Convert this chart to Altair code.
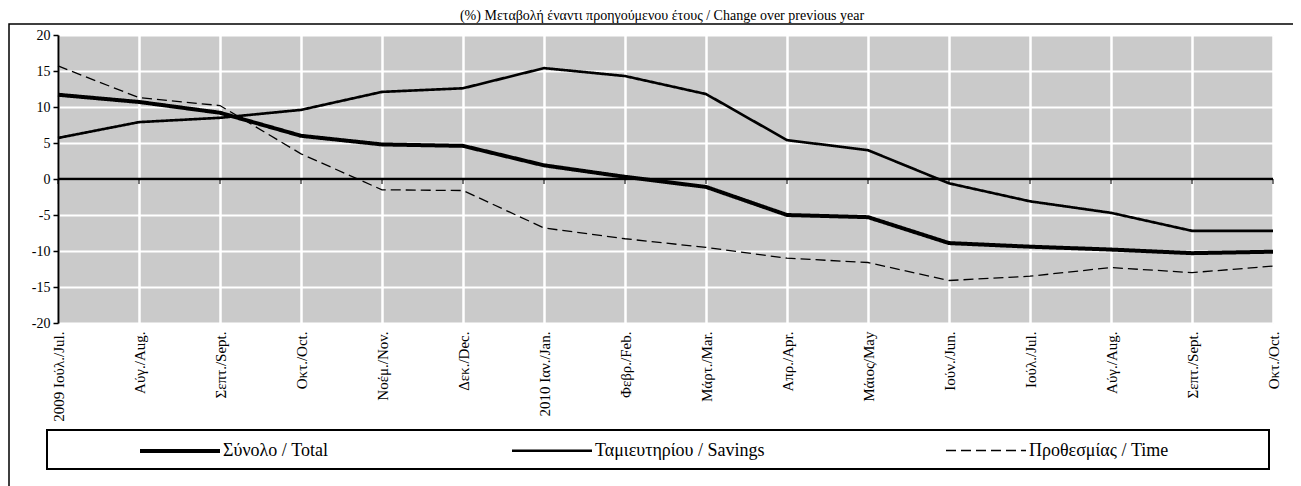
import altair as alt
import pandas as pd

months = ["2009 Ιούλ./Jul.", "Αύγ./Aug.", "Σεπτ./Sept.", "Οκτ./Oct.", "Νοέμ./Nov.",
          "Δεκ./Dec.", "2010 Ιαν./Jan.", "Φεβρ./Feb.", "Μάρτ./Mar.", "Απρ./Apr.",
          "Μάιος/May", "Ιούν./Jun.", "Ιούλ./Jul.", "Αύγ./Aug.", "Σεπτ./Sept.", "Οκτ./Oct."]
total = [11.7, 10.7, 9.2, 6.0, 4.8, 4.6, 1.9, 0.3, -1.1, -5.0, -5.3, -8.9, -9.4, -9.8, -10.3, -10.1]
savings = [5.7, 7.9, 8.5, 9.6, 12.1, 12.6, 15.4, 14.3, 11.8, 5.4, 4.0, -0.6, -3.1, -4.7, -7.2, -7.2]
time_dep = [15.7, 11.3, 10.2, 3.5, -1.5, -1.6, -6.8, -8.3, -9.5, -11.0, -11.6, -14.1, -13.5, -12.3, -13.0, -12.1]
series_names = ["Σύνολο / Total", "Ταμιευτηρίου / Savings", "Προθεσμίας / Time"]
y_ticks = [-20, -15, -10, -5, 0, 5, 10, 15, 20]
title_text = "(%) Μεταβολή έναντι προηγούμενου έτους / Change over previous year"

rows = []
for name, vals in zip(series_names, [total, savings, time_dep]):
    for i, v in enumerate(vals):
        rows.append({"series": name, "idx": i, "value": v})
df = pd.DataFrame(rows)
idx_values = list(range(len(months)))
idx_df = pd.DataFrame({"idx": idx_values})
one = pd.DataFrame({"k": [0]})

FONT = "Liberation Serif"
label_expr = "[" + ",".join("'" + m + "'" for m in months) + "][datum.value]"

x_scale = alt.Scale(domain=[0, len(months) - 1], nice=False, zero=False)
x_axis = alt.Axis(title=None, values=idx_values, labelAngle=270, labelAlign="right",
                  labelBaseline="middle", domain=False, ticks=False, grid=True,
                  gridColor="white", gridWidth=2.5, gridOpacity=1, labelPadding=8,
                  labelFont=FONT, labelFontSize=15, labelColor="black",
                  labelOverlap=False, labelExpr=label_expr)
y_scale = alt.Scale(domain=[-20, 20], nice=False)
y_axis = alt.Axis(title=None, values=y_ticks, tickCount=9, grid=True, gridColor="white",
                  gridWidth=2, gridOpacity=1, domainColor="black", domainWidth=2,
                  tickColor="black", tickSize=5, tickWidth=1.5, labelFont=FONT,
                  labelFontSize=14, labelColor="black", labelPadding=3, labelOverlap=False,
                  labelExpr="toString(datum.value)")

leg = alt.Legend(title=None, orient="none", legendX=80, legendY=404, direction="horizontal",
                 columns=3, symbolType="M-1,0H7", symbolSize=400, symbolStrokeColor="black",
                 labelOffset=61, columnPadding=178, labelFont=FONT, labelFontSize=18,
                 labelColor="black", padding=0, labelLimit=400)

lines = alt.Chart(df).mark_line(color="black").encode(
    x=alt.X("idx:Q", scale=x_scale, axis=x_axis),
    y=alt.Y("value:Q", scale=y_scale, axis=y_axis),
    strokeWidth=alt.StrokeWidth("series:N", scale=alt.Scale(domain=series_names, range=[4, 1.3, 1.8]),
                                legend=leg),
    strokeDash=alt.StrokeDash("series:N", scale=alt.Scale(domain=series_names,
                                                          range=[[1, 0], [1, 0], [10, 5]]),
                              legend=leg),
    order=alt.Order("idx:Q"),
)

zero = alt.Chart(one).mark_rule(color="black", strokeWidth=2.5).encode(
    y=alt.YDatum(0, scale=y_scale, axis=y_axis))
ticks = alt.Chart(idx_df).mark_tick(color="black", orient="vertical", size=5, thickness=1.5,
                                    yOffset=2.5).encode(
    x=alt.X("idx:Q", scale=x_scale, axis=x_axis),
    y=alt.YDatum(0, scale=y_scale, axis=y_axis))

legend_box = alt.Chart(one).mark_rect(fillOpacity=0, stroke="black", strokeWidth=2).encode(
    x=alt.value(-11), x2=alt.value(1211), y=alt.value(395), y2=alt.value(434))
outer_box = alt.Chart(one).mark_rect(fillOpacity=0, stroke="black", strokeWidth=1.5).encode(
    x=alt.value(-49), x2=alt.value(1260), y=alt.value(-11), y2=alt.value(480))
title = alt.Chart(one).mark_text(font=FONT, fontSize=14, align="center", baseline="alphabetic",
                                 color="black").encode(
    x=alt.value(604), y=alt.value(-15), text=alt.value(title_text))

chart = alt.layer(lines, zero, ticks, legend_box, outer_box, title).properties(
    width=1215, height=288,
    autosize=alt.AutoSizeParams(type="none"),
    padding={"left": 50, "top": 27, "right": 20, "bottom": 163},
).configure_view(fill="#cacaca", stroke="transparent")

chart.save("out.html", embed_options={"renderer": "svg", "actions": False})
